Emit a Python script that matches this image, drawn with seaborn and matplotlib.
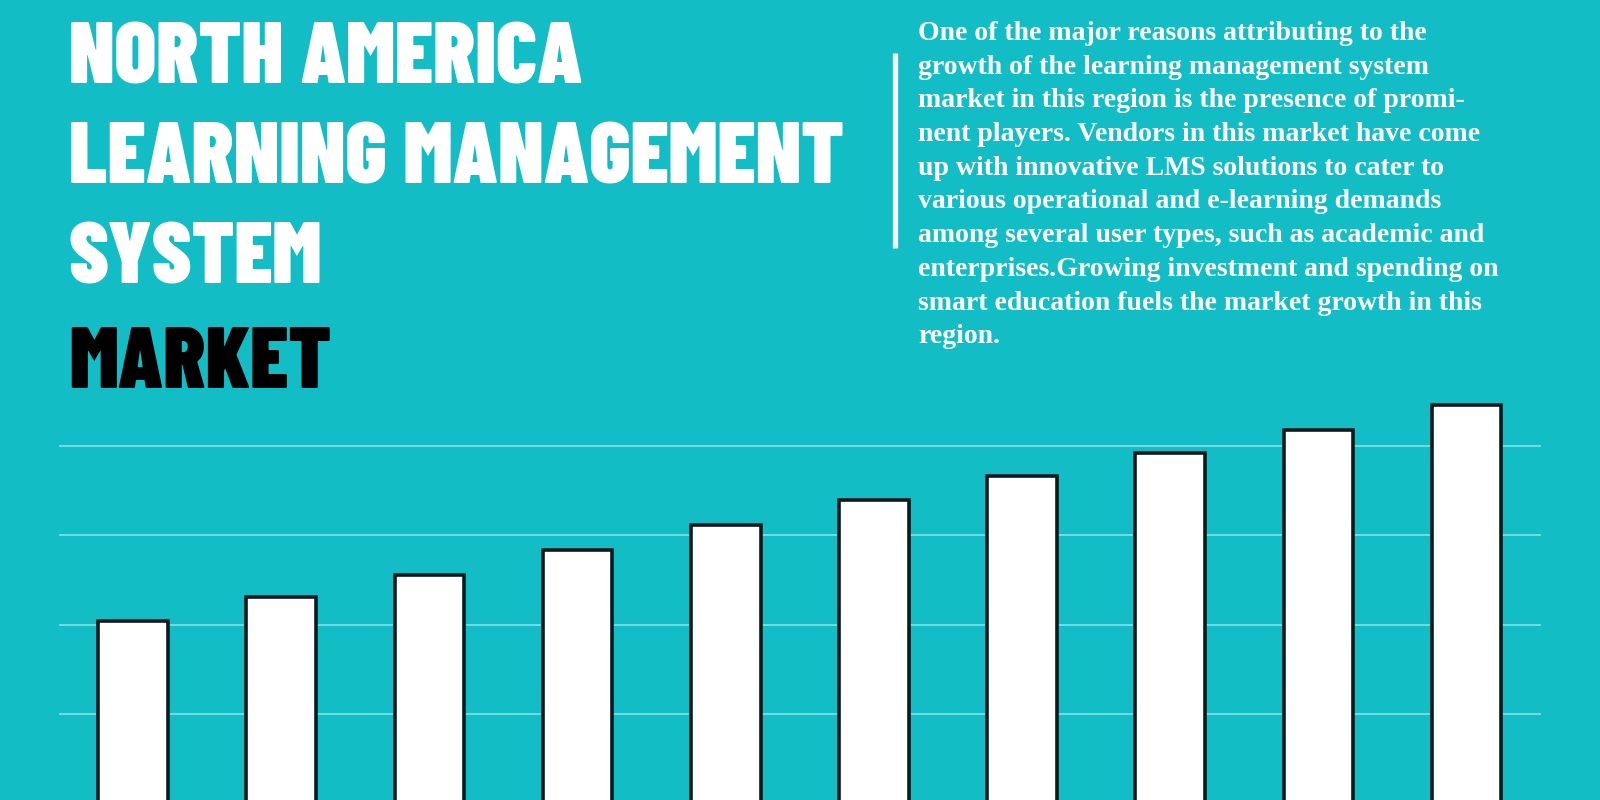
import matplotlib
matplotlib.use("Agg")
import matplotlib.pyplot as plt
from matplotlib.lines import Line2D
import seaborn as sns
import pandas as pd

# bar heights (no axis labels in the original)
bar_labels = ["1", "2", "3", "4", "5", "6", "7", "8", "9", "10"]
market_values = [6.08, 6.62, 7.12, 7.67, 8.24, 8.79, 9.32, 9.85, 10.35, 10.92]
grid_values = [4, 6, 8, 10]

title_lines = ["NORTH AMERICA", "LEARNING MANAGEMENT", "SYSTEM"]
title_last = "MARKET"
body_lines = [
    "One of the major reasons attributing to the",
    "growth of the learning management system",
    "market in this region is the presence of promi-",
    "nent players. Vendors in this market have come",
    "up with innovative LMS solutions to cater to",
    "various operational and e-learning demands",
    "among several user types, such as academic and",
    "enterprises.Growing investment and spending on",
    "smart education fuels the market growth in this",
    "region.",
]

BG = "#12bdc6"
GRID = "#6fdde3"
EDGE = "#0b1a1c"
TITLE_FONT = ["Barlow Condensed", "DejaVu Sans"]
BODY_FONT = ["Liberation Serif", "DejaVu Serif"]

sns.set_theme(style="white")

fig = plt.figure(figsize=(16, 8), dpi=100)
fig.patch.set_facecolor(BG)

# chart area runs off the bottom edge of the picture
ax = fig.add_axes([0.0369, 0.0, 0.926, 0.525])
ax.set_facecolor(BG)
df = pd.DataFrame({"bar": bar_labels, "value": market_values})
sns.barplot(data=df, x="bar", y="value", color="white", edgecolor=EDGE,
            linewidth=2.6, width=0.47, saturation=1, ax=ax)
ax.set_xlim(-0.5, 9.5)
ax.set_ylim(2.07, 11.48)
ax.set_yticks(grid_values)
ax.yaxis.grid(True, color=GRID, linewidth=1.4)
ax.xaxis.grid(False)
ax.set_axisbelow(True)
ax.tick_params(left=False, bottom=False, labelleft=False, labelbottom=False)
ax.set_xlabel("")
ax.set_ylabel("")
for s in ax.spines.values():
    s.set_visible(False)

# big title, top left
title_base = [84, 184, 284]
for txt, y in zip(title_lines, title_base):
    fig.text(69 / 1600, 1 - y / 800, txt, family=TITLE_FONT, fontweight=900,
             fontsize=62, color="white", va="baseline", ha="left")
fig.text(69 / 1600, 1 - 388 / 800, title_last, family=TITLE_FONT, fontweight=900,
         fontsize=62, color="black", va="baseline", ha="left")

# paragraph on the right with a white rule next to it
fig.add_artist(Line2D([895 / 1600, 895 / 1600], [1 - 53 / 800, 1 - 248 / 800],
                      transform=fig.transFigure, color="white", linewidth=3.8,
                      solid_capstyle="butt"))
for i, line in enumerate(body_lines):
    fig.text(918 / 1600, 1 - (40 + 33.7 * i) / 800, line, family=BODY_FONT,
             fontweight="bold", fontsize=20, color="white", va="baseline", ha="left")

plt.savefig("out.png", dpi=100, facecolor=BG)
